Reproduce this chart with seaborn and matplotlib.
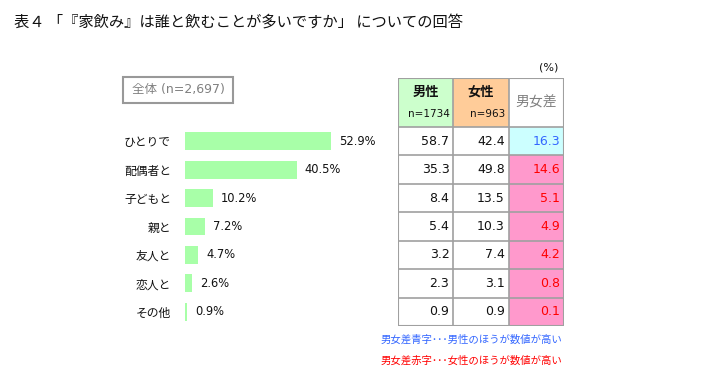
import matplotlib
matplotlib.use('Agg')
import matplotlib.pyplot as plt
import seaborn as sns
import pandas as pd
from matplotlib.patches import Rectangle

# ---- data ----
categories = ['ひとりで', '配偶者と', '子どもと', '親と', '友人と', '恋人と', 'その他']
total_pct = [52.9, 40.5, 10.2, 7.2, 4.7, 2.6, 0.9]
male_pct = [58.7, 35.3, 8.4, 5.4, 3.2, 2.3, 0.9]
female_pct = [42.4, 49.8, 13.5, 10.3, 7.4, 3.1, 0.9]
diff_pct = [16.3, -14.6, -5.1, -4.9, -4.2, -0.8, -0.1]
column_heads = ['男性', '女性', '男女差']
column_n = ['n=1734', 'n=963', '']
total_label = '全体 (n=2,697)'
title = '表４ 「『家飲み』は誰と飲むことが多いですか」 についての回答'
note_blue = '男女差青字･･･男性のほうが数値が高い'
note_red = '男女差赤字･･･女性のほうが数値が高い'

sns.set_theme(style='white')
JP = ['Noto Sans CJK JP', 'DejaVu Sans']
NUM = ['DejaVu Sans']
MIX = ['DejaVu Sans', 'Noto Sans CJK JP']
plt.rcParams['font.family'] = JP

W, H = 710, 386
fig = plt.figure(figsize=(W / 100, H / 100), dpi=100)
fig.patch.set_facecolor('white')


def ax_px(l, t, r, b):
    return fig.add_axes([l / W, 1 - b / H, (r - l) / W, (b - t) / H])


# ---- bar chart ----
ax = ax_px(185, 127, 378, 326)
df = pd.DataFrame({'cat': categories, 'pct': total_pct})
sns.barplot(data=df, x='pct', y='cat', ax=ax, color='#a8ffa8', width=0.63,
            saturation=1, edgecolor='none')
ax.set_xlim(0, 70)
ax.set_ylim(len(categories) - 0.5, -0.5)
for s in ax.spines.values():
    s.set_visible(False)
ax.set_xlabel('')
ax.set_ylabel('')
ax.set_xticks([])
ax.tick_params(axis='y', length=0, pad=10)
for lab in ax.get_yticklabels():
    lab.set_fontsize(8.5)
    lab.set_family(JP)
    lab.set_color('#111111')
for i, v in enumerate(total_pct):
    ax.annotate(f'{v}%', (v, i), xytext=(8, 0), textcoords='offset pixels',
                ha='left', va='center', fontsize=8.3, family=NUM, color='#111111')
ax.set_facecolor('none')

# total label box
fig.text(178 / W, 1 - 90 / H, total_label, ha='center', va='center', fontsize=9,
         color='#808080', family=MIX)
fig.patches.append(Rectangle((123 / W, 1 - 103 / H), 110 / W, 26 / H,
                             transform=fig.transFigure, fill=False,
                             ec='#999999', lw=1.5))

# ---- table ----
row_h = 199 / 7
hdr = 49 / row_h
tx = ax_px(398, 78, 564, 326)
tx.set_xlim(0, 3)
tx.set_ylim(len(categories), -hdr)
tx.axis('off')

head_colors = ['#ccffcc', '#ffcc99', '#ffffff']
for c, col in enumerate(head_colors):
    tx.add_patch(Rectangle((c, -hdr), 1, hdr, fc=col, ec='none'))
for r, d in enumerate(diff_pct):
    tx.add_patch(Rectangle((2, r), 1, 1, fc='#ccffff' if d > 0 else '#ff99cc', ec='none'))

gc = '#a0a0a0'
for r in range(len(categories) + 1):
    tx.plot([0, 3], [r, r], color=gc, lw=1.2, solid_capstyle='butt')
for c in range(4):
    tx.plot([c, c], [-hdr, len(categories)], color=gc, lw=1.5 if c in (0, 3) else 1.2)
tx.plot([0, 3], [-hdr, -hdr], color=gc, lw=1.5)
tx.plot([0, 3], [len(categories), len(categories)], color=gc, lw=1.5)

# headers
for c in range(2):
    tx.text(c + 0.5, -hdr + 14 / row_h, column_heads[c], ha='center', va='center',
            fontsize=9.5, fontweight='bold', family=JP, color='#111111')
    tx.annotate(column_n[c], (c + 1, -hdr + 36 / row_h), xytext=(-3, 0),
                textcoords='offset pixels', ha='right', va='center', fontsize=7.5,
                family=NUM, color='#111111')
tx.text(2.5, -hdr + 25 / row_h, column_heads[2], ha='center', va='center',
        fontsize=10, family=JP, color='#808080')

# cells
for r in range(len(categories)):
    for c, vals in enumerate([male_pct, female_pct]):
        tx.annotate(f'{vals[r]:.1f}', (c + 1, r + 0.5), xytext=(-4, 0),
                    textcoords='offset pixels', ha='right', va='center',
                    fontsize=9, family=NUM, color='#111111')
    d = diff_pct[r]
    tx.annotate(f'{abs(d):.1f}', (3, r + 0.5), xytext=(-4, 0),
                textcoords='offset pixels', ha='right', va='center', fontsize=9,
                family=NUM, color='#3366ff' if d > 0 else '#ff0000')

# ---- texts ----
fig.text(14 / W, 1 - 22 / H, title, ha='left', va='center', fontsize=11, family=JP,
         color='#111111')
fig.text(549 / W, 1 - 68 / H, '(%)', ha='center', va='center', fontsize=8,
         family=MIX, color='#111111')
fig.text(562 / W, 1 - 340 / H, note_blue, ha='right', va='center', fontsize=7.5,
         family=JP, color='#3366ff')
fig.text(562 / W, 1 - 361 / H, note_red, ha='right', va='center', fontsize=7.5,
         family=JP, color='#ff0000')

fig.savefig('out.png', dpi=100, facecolor='white')
